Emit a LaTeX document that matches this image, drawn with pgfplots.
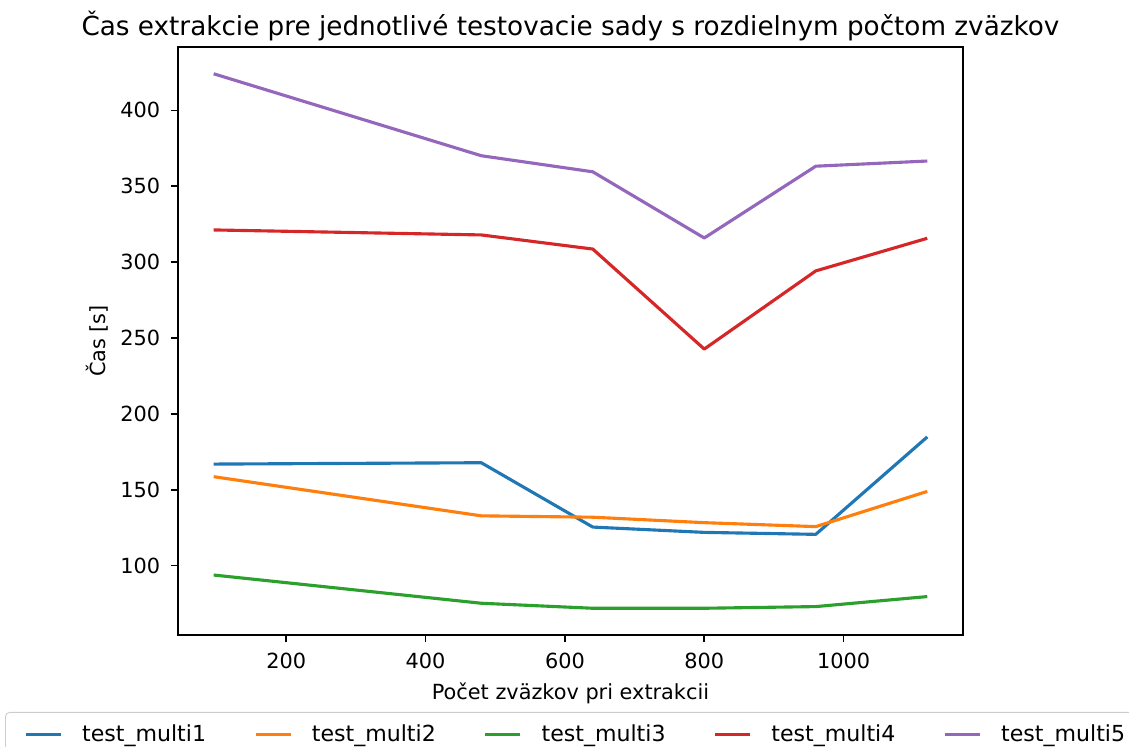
\documentclass[border=0pt]{standalone}
\usepackage{fontspec}
\setmainfont{DejaVu Sans}
\usepackage{pgfplots}
\pgfplotsset{compat=1.18}
\definecolor{c0}{HTML}{1F77B4}
\definecolor{c1}{HTML}{FF7F0E}
\definecolor{c2}{HTML}{2CA02C}
\definecolor{c3}{HTML}{D62728}
\definecolor{c4}{HTML}{9467BD}
\begin{document}
\begin{tikzpicture}
\path[use as bounding box] (-85.44pt,-53.3pt) rectangle (456.5pt,304.8pt);
\begin{axis}[
  at={(0,0)}, anchor=south west,
  scale only axis, width=376.8pt, height=282.2pt,
  xmin=44.8, xmax=1171.2, ymin=54.3, ymax=441.7,
  xtick={200,400,600,800,1000}, ytick={100,150,200,250,300,350,400},
  tick align=outside, major tick length=3.5pt,
  tick style={black, line width=0.8pt},
  axis line style={line width=0.8pt},
  xtick pos=bottom, ytick pos=left,
  /pgf/number format/assume math mode=true,
  /pgf/number format/1000 sep={},
  tick label style={font=\fontsize{10}{12}\selectfont},
  xticklabel style={yshift=-1.5pt},
  yticklabel style={xshift=-1.5pt},
  label style={font=\fontsize{10}{12}\selectfont},
  xlabel={Počet zväzkov pri extrakcii},
  ylabel={Čas [s]},
  xlabel style={yshift=0pt},
  ylabel style={yshift=-1pt},
  title={Čas extrakcie pre jednotlivé testovacie sady s rozdielnym počtom zväzkov},
  title style={font=\fontsize{12.6}{15}\selectfont, yshift=-6.5pt},
  legend columns=5,
  legend style={at={(-0.2203,-0.131)}, anchor=north west,
    font=\fontsize{10.6}{12.7}\selectfont,
    draw=black!20, rounded corners=2pt, inner xsep=9pt, inner ysep=4pt,
    /tikz/every odd column/.append style={column sep=9.5pt},
    /tikz/every even column/.append style={column sep=23pt},
    nodes={inner xsep=0pt, inner ysep=2pt}},
  legend image code/.code={\draw[#1] (0pt,0pt) -- (16.8pt,0pt);},
  every axis plot/.append style={line width=1.5pt, line join=round},
]
\addplot[c0] coordinates {(96,166.9) (480,167.8) (640,125.4) (800,121.9) (960,120.6) (1120,184.8)};
\addlegendentry{test\_multi1}
\addplot[c1] coordinates {(96,158.6) (480,132.8) (640,131.9) (800,128.3) (960,125.7) (1120,148.9)};
\addlegendentry{test\_multi2}
\addplot[c2] coordinates {(96,93.8) (480,75.2) (640,71.9) (800,71.9) (960,73.0) (1120,79.6)};
\addlegendentry{test\_multi3}
\addplot[c3] coordinates {(96,321.2) (480,317.9) (640,308.6) (800,242.7) (960,294.2) (1120,315.7)};
\addlegendentry{test\_multi4}
\addplot[c4] coordinates {(96,424.1) (480,370.1) (640,359.5) (800,315.9) (960,363.2) (1120,366.6)};
\addlegendentry{test\_multi5}
\end{axis}
\end{tikzpicture}
\end{document}
